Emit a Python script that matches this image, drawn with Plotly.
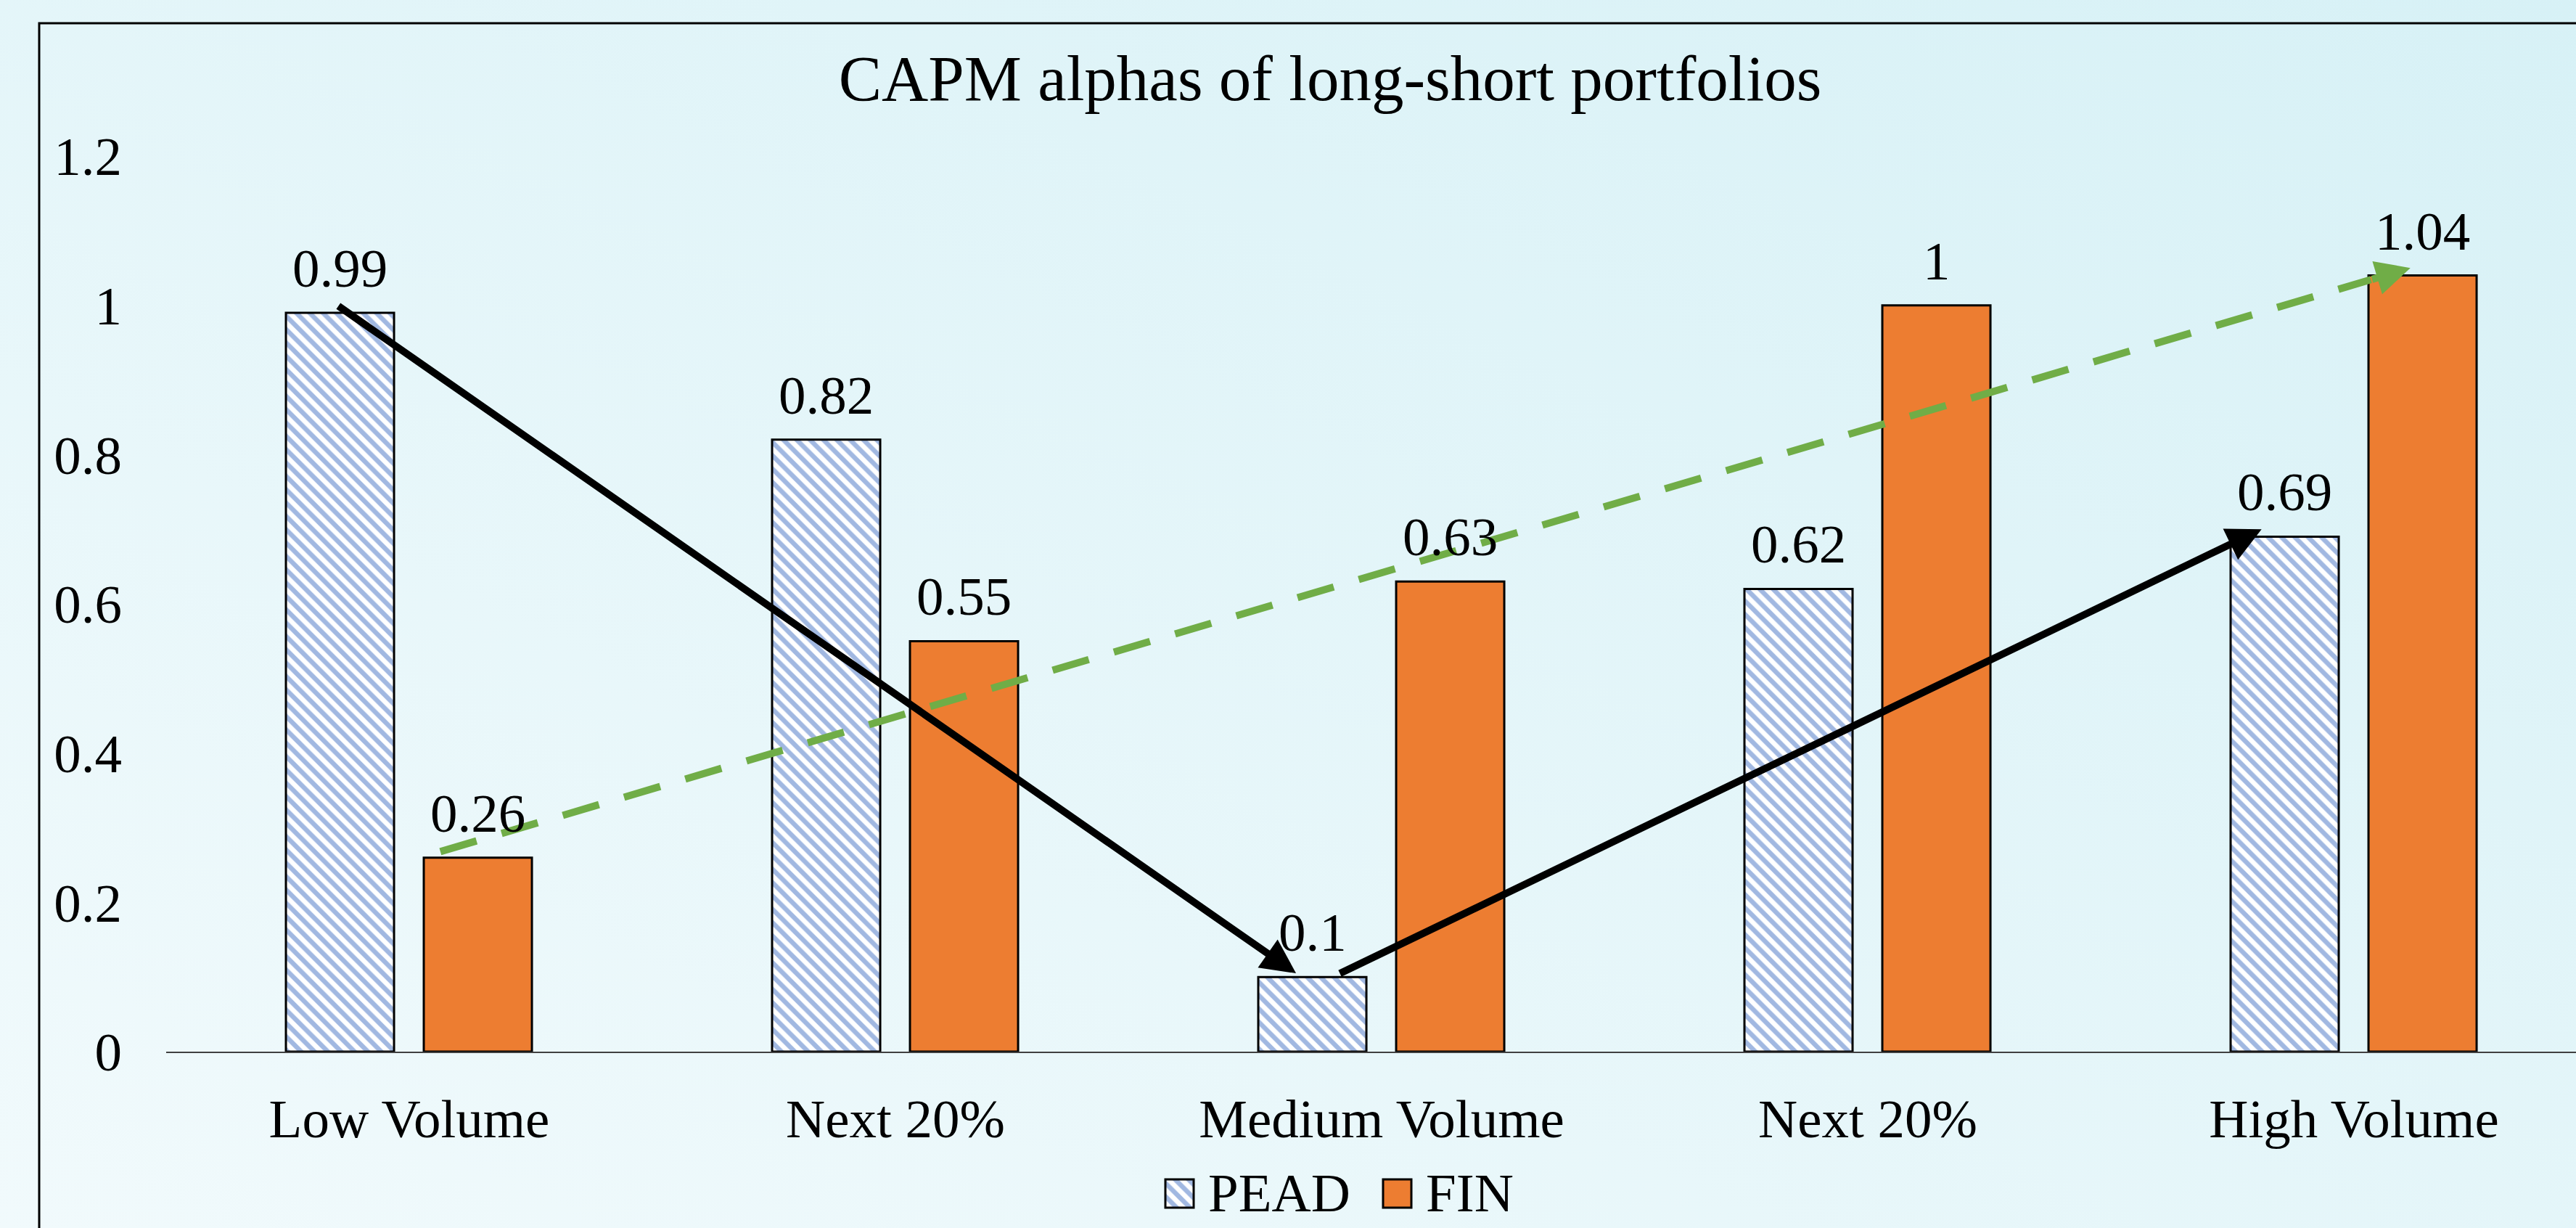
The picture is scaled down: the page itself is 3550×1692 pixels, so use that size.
import base64
import plotly.graph_objects as go

# ---------------- data ----------------
categories = ["Low Volume", "Next 20%", "Medium Volume", "Next 20%", "High Volume"]
pead = [0.99, 0.82, 0.10, 0.62, 0.69]
fin = [0.26, 0.55, 0.63, 1.00, 1.04]
y_ticks = [0, 0.2, 0.4, 0.6, 0.8, 1.0, 1.2]
title_text = "CAPM alphas of long-short portfolios"
series_names = ["PEAD", "FIN"]

# ---------------- styling constants ----------------
W, H = 3550, 1692
FONT = "Liberation Serif"
BLUE = "#4472C4"
ORANGE = "#ED7D31"
GREEN = "#70AD47"

PLOT_L, PLOT_T, PLOT_B = 229, 215, 1449   # pixel positions of the plot area
BAR_W = 0.2224
PEAD_OFF = -0.2537
FIN_OFF = 0.0299

def fx(p):
    return p / W

def fy(p):
    return 1 - p / H

xs = list(range(len(categories)))

fig = go.Figure()

pattern = dict(shape="\\", fgcolor=BLUE, bgcolor="white", size=13, solidity=0.5)

fig.add_bar(
    x=xs, y=pead, width=[BAR_W] * len(xs), offset=PEAD_OFF,
    marker=dict(color="white", line=dict(color="black", width=3), pattern=pattern),
    name=series_names[0], showlegend=False, hoverinfo="skip",
)
fig.add_bar(
    x=xs, y=fin, width=[BAR_W] * len(xs), offset=FIN_OFF,
    marker=dict(color=ORANGE, line=dict(color="black", width=3)),
    name=series_names[1], showlegend=False, hoverinfo="skip",
)

# data labels above bars
for vals, off in ((pead, PEAD_OFF), (fin, FIN_OFF)):
    for i, v in zip(xs, vals):
        fig.add_annotation(
            x=i + off + BAR_W / 2, y=v, xref="x", yref="y", text=f"{v:g}",
            showarrow=False, xanchor="center", yanchor="bottom", yshift=18,
            font=dict(family=FONT, size=75, color="black"),
        )

# ---------------- arrows ----------------
# black solid arrows on PEAD: (index, dx, dy) tail -> tip
black_arrows = [((0, -0.148, 0.01), (2, -0.176, 0.005)),
                ((2, -0.088, 0.004), (4, -0.19, 0.01))]
for (i0, dx0, dy0), (i1, dx1, dy1) in black_arrows:
    fig.add_annotation(
        x=i1 + dx1, y=pead[i1] + dy1, ax=i0 + dx0, ay=pead[i0] + dy0,
        xref="x", yref="y", axref="x", ayref="y", text="",
        showarrow=True, arrowhead=2, arrowsize=0.95, arrowwidth=10,
        arrowcolor="black", standoff=0,
    )

# green dashed arrow on FIN
g0 = (0 + 0.064, fin[0] + 0.008)
g1 = (4 + 0.116, fin[4] + 0.01)
gb = (g1[0] - 0.02 * (g1[0] - g0[0]), g1[1] - 0.02 * (g1[1] - g0[1]))
fig.add_scatter(
    x=[g0[0], gb[0]], y=[g0[1], gb[1]], mode="lines",
    line=dict(color=GREEN, width=10, dash="52px,36px"),
    showlegend=False, hoverinfo="skip",
)
fig.add_annotation(
    x=g1[0], y=g1[1], ax=gb[0], ay=gb[1],
    xref="x", yref="y", axref="x", ayref="y", text="",
    showarrow=True, arrowhead=2, arrowsize=0.95, arrowwidth=10,
    arrowcolor=GREEN, standoff=0,
)

# ---------------- custom legend (mini axes) ----------------
fig.add_bar(
    x=[1625.5], y=[39], base=[5], width=[39], xaxis="x2", yaxis="y2",
    marker=dict(color="white", line=dict(color="black", width=3), pattern=pattern),
    showlegend=False, hoverinfo="skip",
)
fig.add_bar(
    x=[1925.5], y=[39], base=[5], width=[39], xaxis="x2", yaxis="y2",
    marker=dict(color=ORANGE, line=dict(color="black", width=3)),
    showlegend=False, hoverinfo="skip",
)
for name, px in zip(series_names, [1663, 1963]):
    fig.add_annotation(
        x=fx(px), y=fy(1643), xref="paper", yref="paper", text=name,
        showarrow=False, xanchor="left", yanchor="middle",
        font=dict(family=FONT, size=75, color="black"),
    )

# ---------------- background gradient + frame ----------------
svg = (
    f'<svg xmlns="http://www.w3.org/2000/svg" width="{W}" height="{H}" '
    f'viewBox="0 0 {W} {H}" preserveAspectRatio="none">'
    '<defs><linearGradient id="g" x1="0" y1="1" x2="1" y2="0">'
    '<stop offset="0" stop-color="#F1FAFC"/><stop offset="1" stop-color="#D7F1F6"/>'
    '</linearGradient></defs>'
    f'<rect width="{W}" height="{H}" fill="url(#g)"/></svg>'
)
src = "data:image/svg+xml;base64," + base64.b64encode(svg.encode()).decode()
fig.add_layout_image(
    source=src, xref="paper", yref="paper", x=0, y=1, sizex=1, sizey=1,
    sizing="stretch", layer="below", xanchor="left", yanchor="top",
)
fig.add_shape(
    type="rect", xref="paper", yref="paper",
    x0=fx(54), x1=1.01, y0=-0.01, y1=fy(32),
    line=dict(color="black", width=3), fillcolor="rgba(0,0,0,0)", layer="above",
)

# ---------------- layout ----------------
x_hi = 4.5 - (PLOT_L + len(xs) * 670 - W) / 670
fig.update_layout(
    width=W, height=H,
    margin=dict(l=0, r=0, t=0, b=0, pad=0, autoexpand=False),
    paper_bgcolor="#E5F6F9", plot_bgcolor="rgba(0,0,0,0)",
    barmode="overlay",
    font=dict(family=FONT, color="black"),
    title=dict(text=title_text, x=1833 / W, xref="container", xanchor="center",
               y=1 - 107 / H, yref="container", yanchor="middle", automargin=False,
               font=dict(family=FONT, size=89, color="black")),
    xaxis=dict(
        domain=[PLOT_L / W, 1], range=[-0.5, x_hi],
        tickmode="array", tickvals=xs, ticktext=categories,
        showline=True, linecolor="#404040", linewidth=2,
        showgrid=False, zeroline=False, ticks="", automargin=False,
        ticklabelstandoff=26,
        tickfont=dict(family=FONT, size=75, color="black"),
        fixedrange=True,
    ),
    yaxis=dict(
        domain=[fy(PLOT_B), fy(PLOT_T)], range=[0, 1.2],
        tickmode="array", tickvals=y_ticks, ticktext=[f"{v:g}" for v in y_ticks],
        showline=False, showgrid=False, zeroline=False, ticks="", automargin=False,
        ticklabelstandoff=60,
        tickfont=dict(family=FONT, size=75, color="black"),
        fixedrange=True,
    ),
    xaxis2=dict(domain=[fx(1596), fx(1955)], range=[1596, 1955], anchor="y2",
                visible=False, fixedrange=True, automargin=False),
    yaxis2=dict(domain=[fy(1669), fy(1620)], range=[0, 49], anchor="x2",
                visible=False, fixedrange=True, automargin=False),
)

fig.write_html(
    "out.html",
    config={"displayModeBar": False},
    post_script="document.body.style.margin='0';document.body.style.overflow='hidden';",
)
